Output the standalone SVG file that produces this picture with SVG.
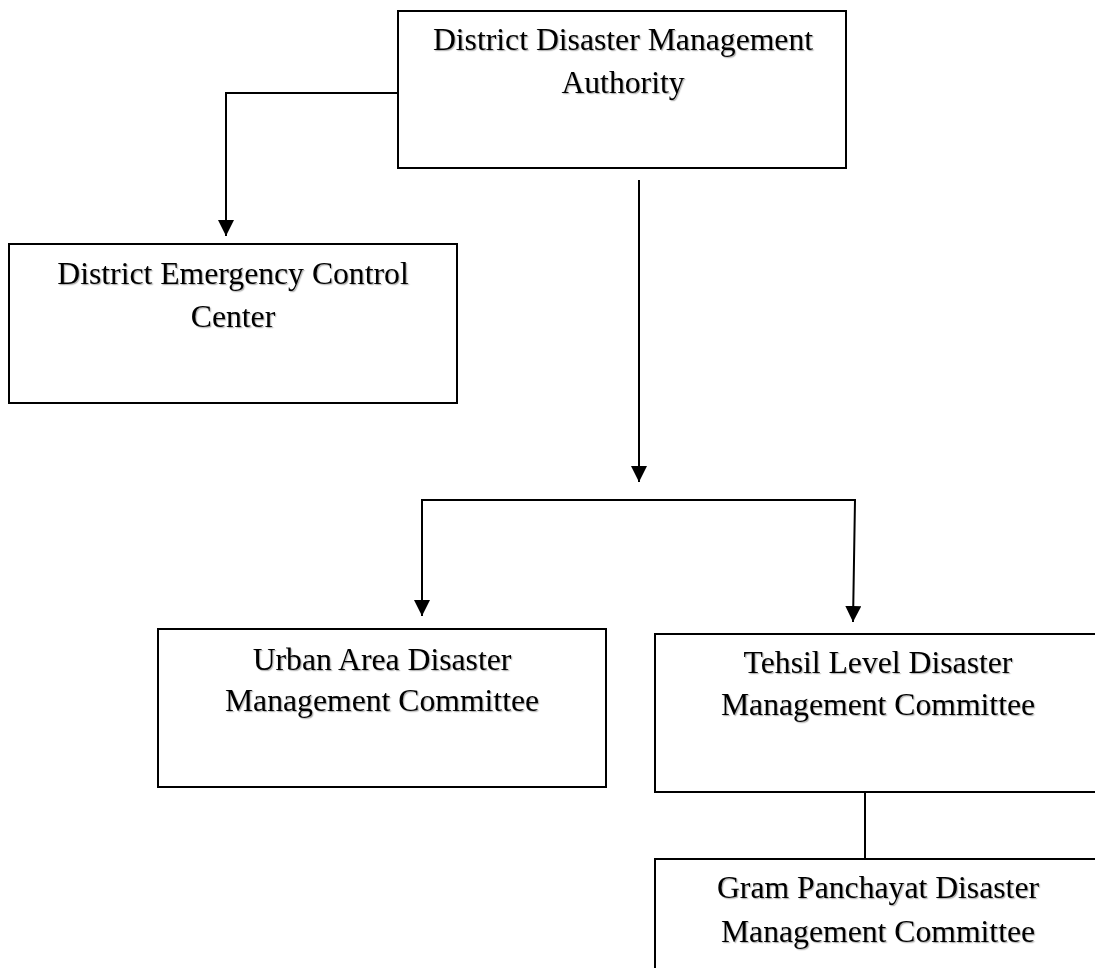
<svg xmlns="http://www.w3.org/2000/svg" width="1095" height="968" viewBox="0 0 1095 968">
  <defs>
    <marker id="arrow" viewBox="0 0 16 16" refX="16" refY="8" markerWidth="16" markerHeight="16" markerUnits="userSpaceOnUse" orient="auto">
      <path d="M0,0 L16,8 L0,16 Z" fill="#000"/>
    </marker>
    <filter id="shadow" x="-5%" y="-20%" width="110%" height="140%">
      <feDropShadow dx="1.2" dy="1.2" stdDeviation="0.6" flood-color="#000" flood-opacity="0.3"/>
    </filter>
  </defs>
  <style>
    .box { fill: #fff; stroke: #000; stroke-width: 2; }
    .lbl { font-family: "Liberation Serif", "Times New Roman", serif; font-size: 31.7px; fill: #000; text-anchor: middle; filter: url(#shadow); }
    .conn { fill: none; stroke: #000; stroke-width: 2; }
  </style>
  <rect width="1095" height="968" fill="#fff"/>

  <g id="connectors">
    <path class="conn" d="M398,93 H226 V236" marker-end="url(#arrow)"/>
    <path class="conn" d="M639,180 V482" marker-end="url(#arrow)"/>
    <path class="conn" d="M422,500 V616" marker-end="url(#arrow)"/>
    <path class="conn" d="M421,500 H855 L853,622" marker-end="url(#arrow)"/>
    <path class="conn" d="M865,792 V859"/>
  </g>

  <g id="node-ddma">
    <rect class="box" x="398" y="11" width="448" height="157"/>
    <text class="lbl" x="623" y="50">District Disaster Management</text>
    <text class="lbl" x="623" y="93">Authority</text>
  </g>

  <g id="node-decc">
    <rect class="box" x="9" y="244" width="448" height="159"/>
    <text class="lbl" x="233" y="284">District Emergency Control</text>
    <text class="lbl" x="233" y="327">Center</text>
  </g>

  <g id="node-uadmc">
    <rect class="box" x="158" y="629" width="448" height="158"/>
    <text class="lbl" x="382" y="670">Urban Area Disaster</text>
    <text class="lbl" x="382" y="711">Management Committee</text>
  </g>

  <g id="node-tldmc">
    <rect class="box" x="655" y="634" width="446" height="158"/>
    <text class="lbl" x="878" y="673">Tehsil Level Disaster</text>
    <text class="lbl" x="878" y="715">Management Committee</text>
  </g>

  <g id="node-gpdmc">
    <rect class="box" x="655" y="859" width="446" height="158"/>
    <text class="lbl" x="878" y="898">Gram Panchayat Disaster</text>
    <text class="lbl" x="878" y="942">Management Committee</text>
  </g>
</svg>
